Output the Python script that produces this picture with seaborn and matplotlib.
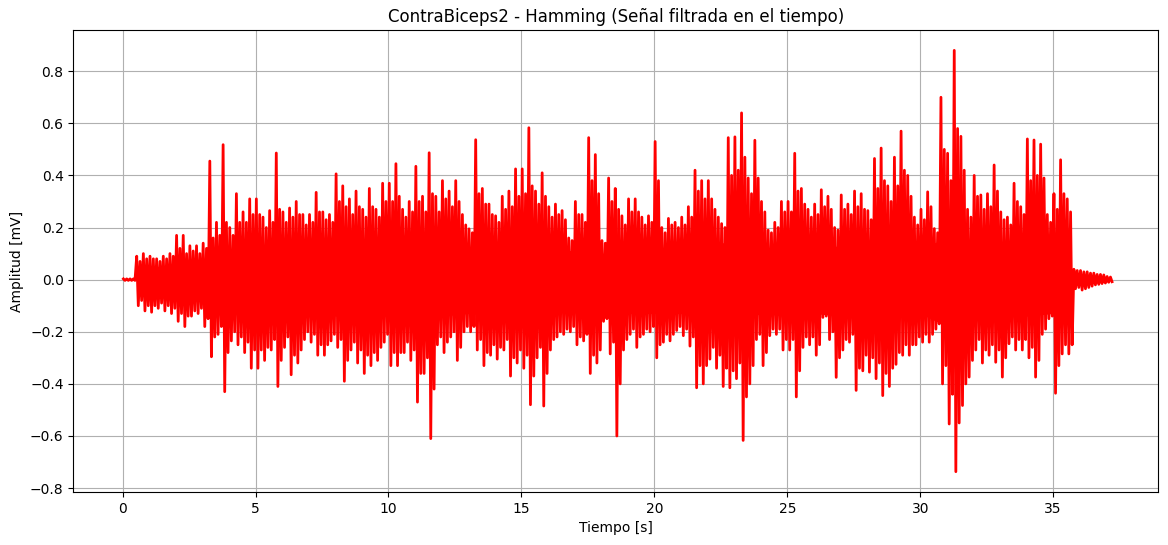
import numpy as np
import pandas as pd
import matplotlib
matplotlib.use("Agg")
import matplotlib.pyplot as plt
import seaborn as sns

# --- Data (EMG, filtered signal) ---
# Time bins of 0.25 s; for each bin, the highest peak and the deepest trough
bin_inicio = np.arange(0, 37.25, 0.25)

pico_max = [
    0.003, 0.003, 0.09, 0.10,     # 0 s
    0.09, 0.08, 0.09, 0.10,       # 1 s
    0.17, 0.17, 0.13, 0.13,       # 2 s
    0.14, 0.455, 0.22, 0.518,     # 3 s
    0.20, 0.33, 0.26, 0.31,       # 4 s
    0.31, 0.24, 0.265, 0.486,     # 5 s
    0.26, 0.275, 0.30, 0.25,      # 6 s
    0.25, 0.335, 0.26, 0.25,      # 7 s
    0.406, 0.36, 0.31, 0.34,      # 8 s
    0.27, 0.35, 0.27, 0.37,       # 9 s
    0.37, 0.445, 0.27, 0.30,      # 10 s
    0.435, 0.32, 0.487, 0.32,     # 11 s
    0.38, 0.34, 0.38, 0.25,       # 12 s
    0.195, 0.537, 0.35, 0.29,     # 13 s
    0.245, 0.32, 0.34, 0.425,     # 14 s
    0.425, 0.583, 0.34, 0.41,     # 15 s
    0.28, 0.29, 0.265, 0.16,      # 16 s
    0.30, 0.25, 0.545, 0.48,      # 17 s
    0.15, 0.39, 0.35, 0.245,      # 18 s
    0.31, 0.31, 0.24, 0.245,      # 19 s
    0.53, 0.20, 0.235, 0.22,      # 20 s
    0.24, 0.28, 0.42, 0.38,       # 21 s
    0.38, 0.27, 0.215, 0.545,     # 22 s
    0.548, 0.64, 0.39, 0.535,     # 23 s
    0.30, 0.19, 0.22, 0.30,       # 24 s
    0.30, 0.485, 0.35, 0.27,      # 25 s
    0.29, 0.345, 0.32, 0.20,      # 26 s
    0.325, 0.29, 0.34, 0.33,      # 27 s
    0.265, 0.465, 0.505, 0.36,    # 28 s
    0.47, 0.57, 0.40, 0.24,       # 29 s
    0.27, 0.337, 0.196, 0.70,     # 30 s
    0.485, 0.88, 0.55, 0.27,      # 31 s
    0.40, 0.325, 0.33, 0.44,      # 32 s
    0.26, 0.24, 0.37, 0.28,       # 33 s
    0.54, 0.536, 0.52, 0.25,      # 34 s
    0.33, 0.46, 0.31, 0.04,       # 35 s
    0.035, 0.03, 0.025, 0.02,     # 36 s
    0.012,                        # 37 s
]

pico_min = [
    -0.003, -0.003, -0.10, -0.12,
    -0.125, -0.11, -0.12, -0.13,
    -0.16, -0.18, -0.14, -0.13,
    -0.18, -0.296, -0.21, -0.43,
    -0.235, -0.25, -0.28, -0.34,
    -0.34, -0.31, -0.27, -0.41,
    -0.26, -0.365, -0.32, -0.23,
    -0.24, -0.29, -0.29, -0.235,
    -0.26, -0.39, -0.27, -0.32,
    -0.36, -0.33, -0.31, -0.24,
    -0.33, -0.33, -0.28, -0.31,
    -0.47, -0.36, -0.61, -0.25,
    -0.28, -0.22, -0.31, -0.20,
    -0.20, -0.27, -0.33, -0.29,
    -0.305, -0.27, -0.37, -0.32,
    -0.34, -0.48, -0.30, -0.485,
    -0.27, -0.22, -0.21, -0.20,
    -0.25, -0.235, -0.36, -0.32,
    -0.16, -0.285, -0.60, -0.27,
    -0.21, -0.26, -0.21, -0.20,
    -0.30, -0.24, -0.235, -0.195,
    -0.215, -0.255, -0.415, -0.40,
    -0.305, -0.34, -0.41, -0.415,
    -0.38, -0.617, -0.40, -0.23,
    -0.33, -0.215, -0.21, -0.27,
    -0.27, -0.45, -0.26, -0.25,
    -0.29, -0.145, -0.23, -0.375,
    -0.27, -0.24, -0.425, -0.35,
    -0.355, -0.38, -0.445, -0.41,
    -0.325, -0.29, -0.29, -0.25,
    -0.24, -0.24, -0.19, -0.40,
    -0.554, -0.737, -0.483, -0.374,
    -0.27, -0.32, -0.29, -0.317,
    -0.374, -0.246, -0.27, -0.27,
    -0.30, -0.374, -0.21, -0.15,
    -0.436, -0.285, -0.285, -0.035,
    -0.04, -0.03, -0.02, -0.015,
    -0.01,
]

# Second-highest peak / trough in each 0.25 s bin (fringe of the dense band)
pico2_max = [
    0.003, 0.003, 0.07, 0.08,
    0.08, 0.07, 0.08, 0.09,
    0.12, 0.10, 0.11, 0.10,
    0.12, 0.16, 0.17, 0.22,
    0.17, 0.22, 0.22, 0.25,
    0.25, 0.20, 0.22, 0.27,
    0.22, 0.24, 0.25, 0.21,
    0.22, 0.26, 0.23, 0.22,
    0.30, 0.28, 0.25, 0.28,
    0.24, 0.28, 0.24, 0.30,
    0.30, 0.32, 0.24, 0.26,
    0.30, 0.26, 0.33, 0.26,
    0.31, 0.28, 0.30, 0.21,
    0.18, 0.33, 0.29, 0.25,
    0.22, 0.27, 0.28, 0.32,
    0.33, 0.36, 0.29, 0.32,
    0.24, 0.25, 0.23, 0.15,
    0.25, 0.22, 0.38, 0.33,
    0.14, 0.30, 0.27, 0.21,
    0.26, 0.26, 0.21, 0.22,
    0.38, 0.18, 0.21, 0.20,
    0.21, 0.24, 0.34, 0.31,
    0.31, 0.24, 0.20, 0.40,
    0.42, 0.47, 0.33, 0.39,
    0.26, 0.18, 0.20, 0.26,
    0.26, 0.34, 0.29, 0.24,
    0.25, 0.28, 0.27, 0.19,
    0.27, 0.25, 0.28, 0.27,
    0.23, 0.35, 0.38, 0.30,
    0.36, 0.42, 0.32, 0.21,
    0.23, 0.28, 0.18, 0.50,
    0.38, 0.58, 0.42, 0.24,
    0.32, 0.27, 0.28, 0.34,
    0.23, 0.21, 0.30, 0.25,
    0.38, 0.40, 0.39, 0.22,
    0.27, 0.33, 0.26, 0.035,
    0.03, 0.025, 0.02, 0.018,
    0.01,
]

pico2_min = [
    -0.003, -0.003, -0.08, -0.10,
    -0.10, -0.09, -0.10, -0.11,
    -0.13, -0.14, -0.12, -0.11,
    -0.15, -0.22, -0.18, -0.28,
    -0.20, -0.22, -0.24, -0.27,
    -0.27, -0.26, -0.23, -0.31,
    -0.22, -0.29, -0.27, -0.20,
    -0.21, -0.25, -0.25, -0.21,
    -0.23, -0.31, -0.24, -0.27,
    -0.29, -0.28, -0.26, -0.21,
    -0.28, -0.28, -0.24, -0.27,
    -0.36, -0.30, -0.42, -0.22,
    -0.24, -0.20, -0.26, -0.18,
    -0.18, -0.23, -0.28, -0.25,
    -0.26, -0.23, -0.30, -0.27,
    -0.29, -0.37, -0.26, -0.36,
    -0.23, -0.20, -0.19, -0.18,
    -0.22, -0.21, -0.29, -0.27,
    -0.15, -0.24, -0.40, -0.23,
    -0.19, -0.22, -0.19, -0.18,
    -0.25, -0.21, -0.21, -0.18,
    -0.19, -0.22, -0.33, -0.33,
    -0.26, -0.29, -0.34, -0.35,
    -0.32, -0.45, -0.33, -0.21,
    -0.28, -0.19, -0.19, -0.23,
    -0.23, -0.35, -0.22, -0.22,
    -0.25, -0.14, -0.20, -0.30,
    -0.23, -0.21, -0.34, -0.29,
    -0.30, -0.32, -0.36, -0.34,
    -0.28, -0.25, -0.25, -0.22,
    -0.21, -0.21, -0.17, -0.33,
    -0.44, -0.55, -0.40, -0.31,
    -0.23, -0.27, -0.25, -0.27,
    -0.30, -0.22, -0.23, -0.23,
    -0.26, -0.31, -0.19, -0.14,
    -0.33, -0.25, -0.25, -0.03,
    -0.035, -0.025, -0.018, -0.013,
    -0.008,
]

# Dense core of the signal (solid red band)
nucleo_t = [0, 0.58, 0.62, 1, 1.5, 2, 2.5, 3, 3.5, 4, 4.5, 5,
            6, 7, 8, 9, 10, 11, 12, 13, 14, 15,
            16, 17, 18, 19, 20, 21, 22, 23, 24, 25,
            26, 27, 28, 29, 30, 31, 32, 33, 34, 35,
            35.55, 35.62, 36, 36.5, 37, 37.1]
nucleo_sup = [0.002, 0.002, 0.04, 0.05, 0.05, 0.06, 0.06, 0.07, 0.08, 0.09, 0.10, 0.11,
              0.12, 0.12, 0.13, 0.13, 0.13, 0.13, 0.13, 0.12, 0.13, 0.13,
              0.12, 0.11, 0.10, 0.12, 0.12, 0.12, 0.13, 0.15, 0.12, 0.13,
              0.12, 0.13, 0.13, 0.13, 0.12, 0.16, 0.13, 0.12, 0.13, 0.12,
              0.11, 0.02, 0.02, 0.015, 0.01, 0.005]
nucleo_inf = [-0.002, -0.002, -0.05, -0.06, -0.06, -0.07, -0.07, -0.08, -0.09, -0.10, -0.11, -0.12,
              -0.13, -0.13, -0.14, -0.14, -0.14, -0.14, -0.14, -0.13, -0.14, -0.14,
              -0.13, -0.12, -0.11, -0.13, -0.13, -0.13, -0.15, -0.17, -0.13, -0.14,
              -0.13, -0.14, -0.14, -0.15, -0.13, -0.18, -0.15, -0.13, -0.14, -0.13,
              -0.12, -0.025, -0.02, -0.015, -0.01, -0.005]

titulo = "ContraBiceps2 - Hamming (Señal filtrada en el tiempo)"
etiqueta_x = "Tiempo [s]"
etiqueta_y = "Amplitud [mV]"

# --- Build the alternating peak/trough series ---
n = len(pico_max)
t0 = bin_inicio[:n]
tiempo = np.empty(4 * n)
valor = np.empty(4 * n)
tiempo[0::4] = t0 + 0.03
tiempo[1::4] = t0 + 0.09
tiempo[2::4] = t0 + 0.155
tiempo[3::4] = t0 + 0.215
valor[0::4] = pico_max
valor[1::4] = pico_min
valor[2::4] = pico2_max
valor[3::4] = pico2_min
df = pd.DataFrame({"Tiempo": tiempo, "Amplitud": valor})

fig = plt.figure(figsize=(11.68, 5.45), dpi=100)
ax = fig.add_axes([73.3 / 1168, 1 - 492 / 545, (1158.3 - 73.3) / 1168, (492 - 30.3) / 545])

ax.fill_between(nucleo_t, nucleo_inf, nucleo_sup, color="red", linewidth=0, zorder=2)
sns.lineplot(data=df, x="Tiempo", y="Amplitud", sort=False, estimator=None,
             color="red", linewidth=2.0, ax=ax, zorder=3)

ax.set_xlim(-1.855, 38.955)
ax.set_ylim(-0.815, 0.957)
ax.set_xticks([0, 5, 10, 15, 20, 25, 30, 35])
ax.set_yticks([-0.8, -0.6, -0.4, -0.2, 0.0, 0.2, 0.4, 0.6, 0.8])
ax.grid(True, color="#b0b0b0", linewidth=0.8)
ax.set_axisbelow(True)
ax.set_title(titulo, fontsize=12)
ax.set_xlabel(etiqueta_x, fontsize=10)
ax.set_ylabel(etiqueta_y, fontsize=10)

fig.savefig("out.png", dpi=100)
